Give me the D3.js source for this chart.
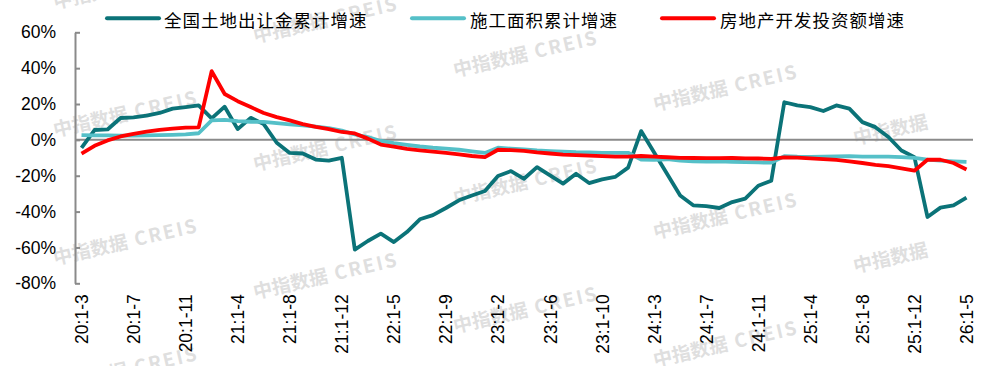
<html>
<head>
<meta charset="utf-8">
<style>
body { margin: 0; background: #fff; }
svg { display: block; }
.axis text { font-family: 'Liberation Sans', Arial, sans-serif; font-size: 17.5px; fill: #000; }
.legend text { font-family: 'Noto Sans CJK SC', sans-serif; font-size: 17.5px; letter-spacing: 1px; fill: #000; }
.watermark { font-family: 'Noto Sans CJK SC', sans-serif; font-size: 19px; font-weight: 700; fill: #dfdfdf; }
.watermark tspan.latin { letter-spacing: 2px; }
</style>
</head>
<body>

<svg></svg>

<script src="https://d3js.org/d3.v7.min.js"></script>
<script>

const fullWidth = 986;
const fullHeight = 366;

// categories: cumulative months 20:1-3 ... 26:1-5
const categories = [
    '20:1-3', '20:1-4', '20:1-5', '20:1-6', '20:1-7', '20:1-8', '20:1-9', '20:1-10', '20:1-11', '20:1-12',
    '21:1-2', '21:1-3', '21:1-4', '21:1-5', '21:1-6', '21:1-7', '21:1-8', '21:1-9', '21:1-10', '21:1-11', '21:1-12',
    '22:1-2', '22:1-3', '22:1-4', '22:1-5', '22:1-6', '22:1-7', '22:1-8', '22:1-9', '22:1-10', '22:1-11', '22:1-12',
    '23:1-2', '23:1-3', '23:1-4', '23:1-5', '23:1-6', '23:1-7', '23:1-8', '23:1-9', '23:1-10', '23:1-11', '23:1-12',
    '24:1-2', '24:1-3', '24:1-4', '24:1-5', '24:1-6', '24:1-7', '24:1-8', '24:1-9', '24:1-10', '24:1-11', '24:1-12',
    '25:1-2', '25:1-3', '25:1-4', '25:1-5', '25:1-6', '25:1-7', '25:1-8', '25:1-9', '25:1-10', '25:1-11', '25:1-12',
    '26:1-2', '26:1-3', '26:1-4', '26:1-5',
];

// 全国土地出让金累计增速 (%)
const landRevenue = [
    -4.5, 5.5, 5.8, 12.2, 12.6, 13.5, 15.0, 17.4, 18.3, 19.2,
    12.0, 18.5, 6.0, 12.3, 8.8, -1.6, -7.3, -7.6, -11.0, -11.6, -10.0,
    -61.2, -56.4, -52.3, -57.0, -51.4, -44.3, -42.0, -38.0, -33.7, -31.0, -28.5,
    -20.2, -17.4, -21.7, -15.2, -19.8, -24.4, -18.9, -24.1, -22.0, -20.7, -15.5,
    4.9, -7.0, -19.0, -31.0, -36.5, -37.0, -38.0, -34.7, -32.8, -25.6, -22.8,
    21.0, 19.2, 18.3, 16.1, 19.2, 17.4, 9.9, 7.1, 1.6, -5.9, -9.6,
    -43.0, -37.8, -36.5, -32.2,
];

// 施工面积累计增速 (%)
const constructionArea = [
    2.7, 2.5, 2.5, 2.4, 2.4, 2.5, 2.6, 2.8, 3.1, 3.7,
    10.9, 11.2, 10.5, 10.1, 10.0, 9.3, 8.7, 8.1, 7.4, 6.6, 5.2,
    3.0, 1.6, -0.6, -1.8, -2.8, -3.7, -4.4, -4.9, -5.5, -6.4, -7.3,
    -4.4, -4.9, -5.3, -5.9, -6.3, -6.6, -6.9, -7.0, -7.2, -7.2, -7.2,
    -11.0, -11.1, -10.8, -11.6, -12.0, -12.1, -12.0, -12.2, -12.4, -12.6, -12.7,
    -9.1, -9.4, -9.5, -9.3, -9.2, -9.1, -9.3, -9.4, -9.4, -9.6, -10.0,
    -11.0, -11.6, -12.0, -12.3,
];

// 房地产开发投资额增速 (%)
const investment = [
    -7.7, -3.3, -0.3, 1.9, 3.4, 4.6, 5.6, 6.3, 6.8, 7.0,
    38.3, 25.6, 21.6, 18.3, 15.0, 12.7, 10.9, 8.8, 7.2, 6.0, 4.4,
    3.6, 0.7, -2.6, -3.8, -5.0, -5.8, -6.6, -7.3, -8.1, -9.0, -9.6,
    -5.5, -5.7, -6.1, -7.0, -7.6, -8.2, -8.5, -8.8, -9.1, -9.3, -9.4,
    -9.0, -9.4, -9.7, -10.0, -10.1, -10.2, -10.2, -10.1, -10.3, -10.4, -10.6,
    -9.8, -9.9, -10.3, -10.7, -11.2, -12.0, -12.9, -13.9, -14.7, -15.9, -17.2,
    -11.1, -11.1, -12.9, -16.5,
];

const yTicks = [-80, -60, -40, -20, 0, 20, 40, 60];

const series = [
    {name: '全国土地出让金累计增速', values: landRevenue, color: '#0b7378'},
    {name: '施工面积累计增速', values: constructionArea, color: '#55c0c8'},
    {name: '房地产开发投资额增速', values: investment, color: '#ff0000'},
];

const plot = {left: 75, right: 973, top: 32.3, bottom: 283.3};
const axisColor = '#8a8a8a';

const x = d3.scalePoint()
    .domain(categories)
    .range([plot.left, plot.right])
    .padding(0.5);

const y = d3.scaleLinear()
    .domain([-80, 60])
    .range([plot.bottom, plot.top]);

const svg = d3.select('svg')
    .attr('width', fullWidth)
    .attr('height', fullHeight);

svg.append('rect')
    .attr('width', fullWidth)
    .attr('height', fullHeight)
    .attr('fill', '#fff');

// watermark grid
const marks = svg.append('g').attr('class', 'watermarks');
d3.range(5).forEach(k => {
    d3.range(-1, 4).forEach(j => {
        const wx = 55 + 200 * k;
        const wy = 137 + 34 * k + 128 * j;
        if (wy < -10 || wy > 410) return;
        const t = marks.append('text')
            .attr('class', 'watermark')
            .attr('transform', `translate(${wx},${wy}) rotate(-13)`);
        t.append('tspan').text('中指数据');
        if (k < 4) {
            t.append('tspan').attr('class', 'latin').attr('dx', 7).text('CREIS');
        }
    });
});

// y axis
const yAxis = svg.append('g')
    .attr('class', 'axis')
    .attr('transform', `translate(${plot.left},0)`)
    .call(d3.axisLeft(y)
        .tickValues(yTicks)
        .tickFormat(d => d + '%')
        .tickSizeInner(-5)
        .tickSizeOuter(0)
        .tickPadding(19));

yAxis.select('.domain').attr('stroke', axisColor).attr('stroke-width', 2);
yAxis.selectAll('.tick line').attr('stroke', axisColor).attr('stroke-width', 2);

// zero line
svg.append('line')
    .attr('x1', plot.left)
    .attr('x2', plot.right)
    .attr('y1', y(0))
    .attr('y2', y(0))
    .attr('stroke', axisColor)
    .attr('stroke-width', 2);

// x axis labels (every 4th month), rotated
const xAxis = svg.append('g')
    .attr('class', 'axis')
    .attr('transform', `translate(0,${plot.bottom})`)
    .call(d3.axisBottom(x)
        .tickValues(categories.filter((d, i) => i % 4 === 0))
        .tickSize(0));

xAxis.select('.domain').remove();
xAxis.selectAll('.tick text')
    .attr('transform', 'rotate(-90)')
    .attr('text-anchor', 'end')
    .attr('x', -11)
    .attr('y', 0)
    .attr('dy', null)
    .attr('dominant-baseline', 'central');

// lines
const line = d3.line()
    .x((d, i) => x(categories[i]))
    .y(d => y(d));

svg.append('g').attr('class', 'lines')
    .selectAll('path')
    .data(series)
    .join('path')
    .attr('fill', 'none')
    .attr('stroke', d => d.color)
    .attr('stroke-width', 3.8)
    .attr('stroke-linejoin', 'round')
    .attr('d', d => line(d.values));

// legend
const legendPos = [
    {lx: 107, tx: 164},
    {lx: 412, tx: 470},
    {lx: 662, tx: 720},
];

const legend = svg.append('g').attr('class', 'legend')
    .selectAll('g')
    .data(series)
    .join('g');

legend.append('line')
    .attr('x1', (d, i) => legendPos[i].lx)
    .attr('x2', (d, i) => legendPos[i].lx + 52)
    .attr('y1', 18.3)
    .attr('y2', 18.3)
    .attr('stroke', d => d.color)
    .attr('stroke-width', 4)
    .attr('stroke-linecap', 'round');

legend.append('text')
    .attr('x', (d, i) => legendPos[i].tx)
    .attr('y', 19)
    .attr('dominant-baseline', 'central')
    .text(d => d.name);

</script>
</body>
</html>
